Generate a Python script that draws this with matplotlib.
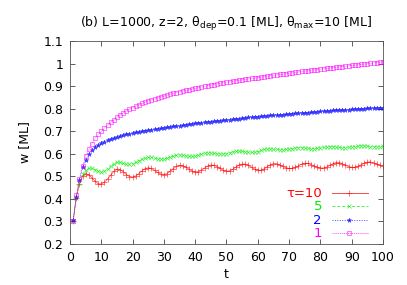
import matplotlib.pyplot as plt
import numpy as np

plt.rcParams["font.family"] = ["DejaVu Sans"]
plt.rcParams["mathtext.fontset"] = "dejavusans"

t = np.arange(1, 101)

w_tau10 = [
    .300, .405, .465, .500, .512, .507, .493, .478, .467, .466,
    .474, .488, .505, .522, .532, .530, .520, .508, .499, .497,
    .502, .512, .524, .534, .538, .535, .527, .517, .510, .508,
    .512, .522, .534, .544, .548, .547, .541, .532, .524, .520,
    .520, .527, .537, .546, .550, .549, .543, .535, .527, .523,
    .524, .531, .541, .550, .555, .554, .548, .540, .532, .527,
    .527, .533, .542, .551, .556, .556, .551, .544, .538, .535,
    .535, .540, .547, .554, .558, .557, .552, .546, .540, .537,
    .537, .541, .548, .556, .561, .561, .556, .549, .543, .540,
    .540, .544, .551, .558, .563, .564, .560, .554, .549, .546,
]
w_tau5 = [
    .300, .405, .470, .510, .528, .535, .535, .530, .523, .519,
    .522, .533, .546, .556, .562, .562, .558, .554, .553, .556,
    .562, .569, .576, .581, .584, .584, .581, .578, .576, .577,
    .580, .585, .590, .594, .595, .594, .591, .589, .588, .590,
    .594, .598, .602, .604, .604, .602, .600, .599, .599, .601,
    .604, .608, .611, .612, .611, .609, .607, .606, .607, .609,
    .615, .619, .621, .622, .621, .619, .618, .618, .619, .621,
    .623, .626, .627, .627, .626, .624, .623, .623, .624, .626,
    .628, .630, .631, .631, .630, .628, .627, .627, .629, .631,
    .632, .634, .635, .635, .634, .632, .631, .631, .632, .634,
]
w_tau2 = [
    .305, .410, .485, .540, .573, .598, .615, .628, .638, .647,
    .654, .660, .665, .670, .675, .678, .682, .686, .689, .692,
    .695, .697, .700, .703, .705, .707, .709, .711, .713, .715,
    .717, .719, .721, .723, .725, .727, .729, .731, .733, .735,
    .737, .738, .740, .741, .743, .744, .746, .747, .749, .750,
    .752, .753, .755, .756, .758, .759, .761, .762, .764, .765,
    .766, .767, .768, .770, .771, .772, .773, .774, .775, .777,
    .778, .779, .780, .781, .782, .783, .784, .785, .786, .788,
    .789, .790, .791, .792, .793, .794, .795, .795, .796, .797,
    .798, .799, .799, .800, .801, .802, .802, .803, .804, .805,
]
w_tau1 = [
    .300, .415, .490, .545, .590, .620, .645, .668, .686, .700,
    .715, .728, .740, .752, .764, .774, .783, .791, .798, .805,
    .811, .817, .823, .829, .834, .839, .843, .848, .852, .856,
    .860, .864, .868, .871, .875, .878, .881, .884, .887, .890,
    .893, .896, .899, .902, .905, .907, .910, .912, .915, .917,
    .919, .922, .924, .926, .928, .930, .932, .934, .936, .938,
    .940, .942, .944, .946, .948, .950, .952, .953, .955, .957,
    .959, .961, .963, .965, .967, .968, .970, .972, .973, .975,
    .977, .979, .980, .982, .984, .985, .987, .988, .990, .992,
    .993, .995, .996, .998, .999, 1.001, 1.003, 1.004, 1.006, 1.008,
]

labels = ["τ=10", "5", "2", "1"]
series = [w_tau10, w_tau5, w_tau2, w_tau1]
colors = ["#ff0000", "#00ee00", "#0000ff", "#ff00ff"]
styles = [
    dict(ls="-", marker="+", ms=4, mew=0.5),
    dict(ls=(0, (3, 2)), marker="x", ms=2.8, mew=0.5),
    dict(ls=(0, (1, 1.5)), marker="*", ms=3.5, mew=0.3),
    dict(ls=(0, (1, 1)), marker="s", ms=3, mew=0.5, mfc="none"),
]

fig = plt.figure(figsize=(4.07, 2.85), dpi=100)
ax = fig.add_axes([0.172, 0.144, 0.769, 0.712])

for w, c, st in zip(series, colors, styles):
    ax.plot(t, w, color=c, lw=0.5, alpha=0.75, **st)

# legend drawn by hand so that labels are right-aligned like gnuplot
rows = [0.251, 0.187, 0.118, 0.054]
for lab, c, st, y in zip(labels, colors, styles, rows):
    ax.text(0.805, y, lab, transform=ax.transAxes, ha="right", va="center",
            color=c, fontsize=9.5)
    ax.plot([0.837, 0.952], [y, y], transform=ax.transAxes, color=c, lw=0.7,
            alpha=0.7, ls=st["ls"])
    mst = {k: v for k, v in st.items() if k != "ls"}
    ax.plot([0.893], [y], transform=ax.transAxes, color=c, ls="none",
            alpha=0.75, **mst)

ax.set_xlim(0, 100)
ax.set_ylim(0.2, 1.1)
ax.set_xticks(np.arange(0, 101, 10))
yt = np.round(np.arange(0.2, 1.11, 0.1), 1)
ax.set_yticks(yt)
ax.set_yticklabels([f"{v:g}" for v in yt])
ax.tick_params(direction="in", top=True, right=True, length=3.5, width=0.6,
               color="#444444", labelsize=9, pad=5)
for s in ax.spines.values():
    s.set_linewidth(0.6)
    s.set_color("#555555")

ax.set_xlabel("t", fontsize=9, labelpad=3)
ax.set_ylabel("w [ML]", fontsize=9, labelpad=9)
ax.set_title("(b) L=1000, z=2, θ$_{\\mathrm{dep}}$=0.1 [ML], "
             "θ$_{\\mathrm{max}}$=10 [ML]", fontsize=9, pad=10)

fig.savefig("out.png", dpi=100)
